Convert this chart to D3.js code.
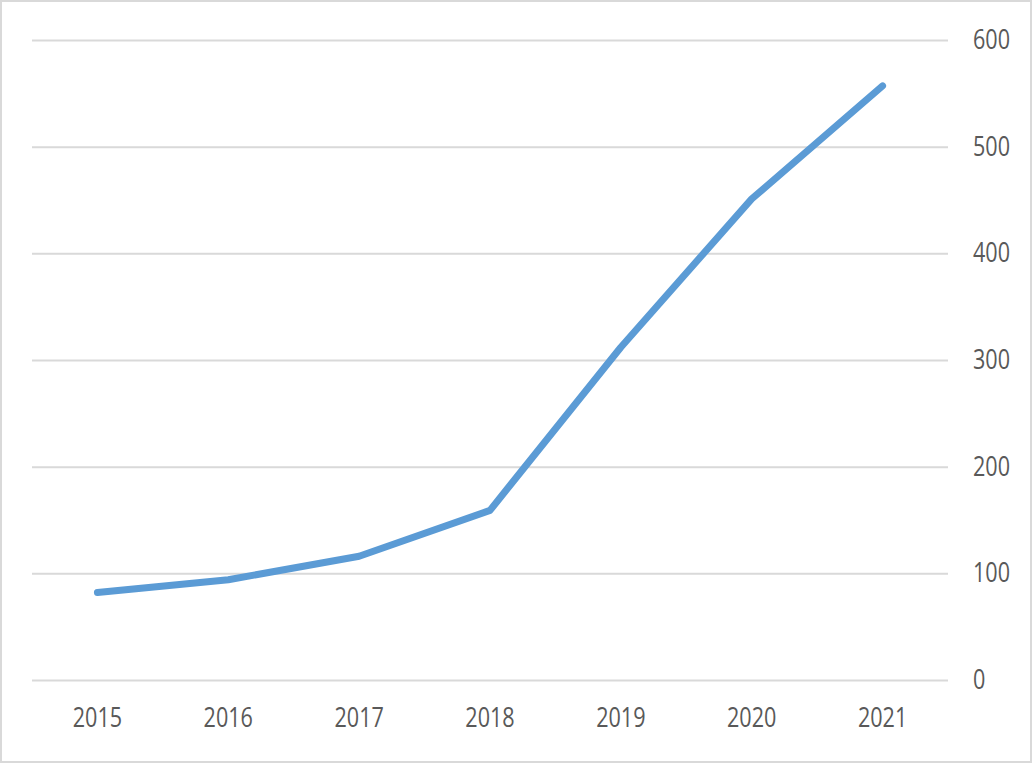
<!DOCTYPE html>
<html><head><meta charset="utf-8">
<script src="https://cdn.jsdelivr.net/npm/d3@7"></script>
<style>html,body{margin:0;padding:0;background:#fff;}svg{display:block;}</style>
</head><body>
<svg id="chart" width="1032" height="763"></svg>
<script>
const years = ["2015","2016","2017","2018","2019","2020","2021"];
const values = [82, 94, 116, 159, 312, 451, 557];
const yTicks = [0, 100, 200, 300, 400, 500, 600];

const svg = d3.select("#chart");
const W = 1032, H = 763;
const fontFam = "'Open Sans',sans-serif";
const sx = 0.8;

svg.append("rect").attr("x",1).attr("y",1).attr("width",W-2).attr("height",H-2)
  .attr("fill","#fff").attr("stroke","#d9d9d9").attr("stroke-width",2);

const x = d3.scaleBand().domain(years).range([32, 948]);
const y = d3.scaleLinear().domain([0, 600]).range([680, 40]);

const yAxis = d3.axisRight(y).tickValues(yTicks).tickSize(-(948-32)).tickPadding(25);
const gy = svg.append("g").attr("transform","translate(948,0)").call(yAxis);
gy.select(".domain").remove();
gy.selectAll(".tick line").attr("stroke","#d9d9d9").attr("stroke-width",2);
gy.selectAll(".tick text").attr("fill","#595959").attr("font-family",fontFam).attr("font-size",27)
  .attr("x", 25/sx).attr("transform",`scale(${sx},1)`);

const xAxis = d3.axisBottom(x).tickSize(0).tickPadding(28);
const gx = svg.append("g").attr("transform","translate(0,680)").call(xAxis);
gx.select(".domain").remove();
gx.selectAll(".tick text").attr("fill","#595959").attr("font-family",fontFam).attr("font-size",27)
  .attr("transform",`scale(${sx},1)`);

const line = d3.line().x((d,i)=>x(years[i])+x.bandwidth()/2).y(d=>y(d));
svg.append("path").datum(values).attr("d",line)
  .attr("fill","none").attr("stroke","#5b9bd5").attr("stroke-width",7)
  .attr("stroke-linecap","round").attr("stroke-linejoin","round");
</script>
</body></html>
